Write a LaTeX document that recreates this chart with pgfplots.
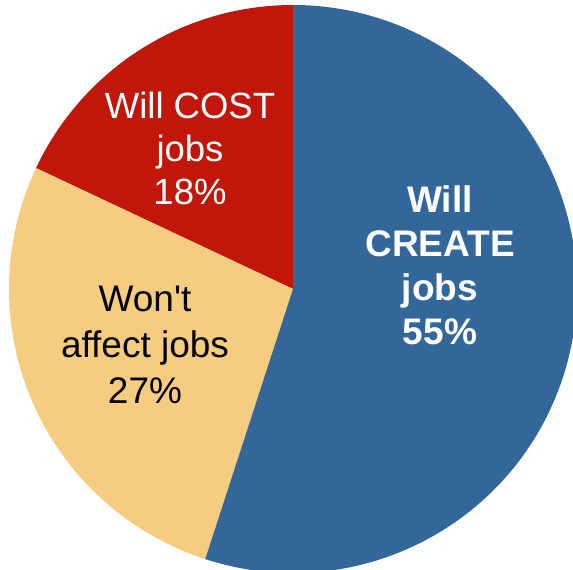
\documentclass[border=0pt]{standalone}
\usepackage{pgfplots}
\usepackage{pgfplotstable}
\pgfplotsset{compat=1.18}
\usepackage{fontspec}
\setmainfont{Liberation Sans}
\definecolor{costred}{RGB}{192,23,10}
\definecolor{noneyel}{RGB}{245,204,128}
\definecolor{createblue}{RGB}{51,103,153}
\pgfplotstableread{
label value
cost 18
none 27
create 55
}\piedata
\pgfplotstablegetelem{0}{value}\of\piedata \let\va\pgfplotsretval
\pgfplotstablegetelem{1}{value}\of\piedata \let\vb\pgfplotsretval
\pgfplotstablegetelem{2}{value}\of\piedata \let\vc\pgfplotsretval
\pgfmathsetmacro\aA{90}
\pgfmathsetmacro\aB{90+3.6*\va}
\pgfmathsetmacro\aC{\aB+3.6*\vb}
\pgfmathsetmacro\aD{\aC+3.6*\vc}
\begin{document}
\begin{tikzpicture}
\begin{axis}[
  x=1pt, y=1pt,
  xmin=-293, xmax=280, ymin=-281, ymax=289,
  hide axis, clip=true,
]
\path (axis cs:-293,-281) rectangle (axis cs:280,289);
\fill[costred] (axis cs:0,0) -- ++(\aA:284pt) arc[start angle=\aA,end angle=\aB,radius=284pt] -- cycle;
\fill[noneyel] (axis cs:0,0) -- ++(\aB:284pt) arc[start angle=\aB,end angle=\aC,radius=284pt] -- cycle;
\fill[createblue] (axis cs:0,0) -- ++(\aC:284pt) arc[start angle=\aC,end angle=\aD,radius=284pt] -- cycle;
\node[white, align=center, font=\fontsize{36.5}{43}\selectfont] at (axis cs:-103,141) {Will COST\\jobs\\18\%};
\node[black, align=center, font=\fontsize{37}{46}\selectfont] at (axis cs:-148,-56) {Won\textquotesingle t\\affect jobs\\27\%};
\node[white, align=center, font=\fontsize{37}{44}\selectfont\bfseries] at (axis cs:147,24) {Will\\CREATE\\jobs\\55\%};
\end{axis}
\end{tikzpicture}
\end{document}
